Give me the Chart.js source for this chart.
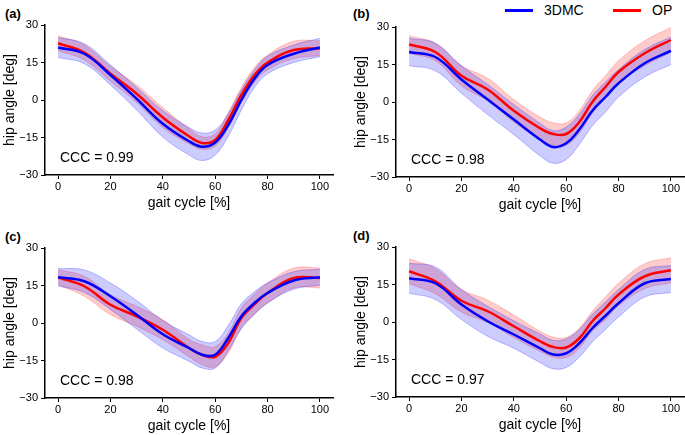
<!DOCTYPE html>
<html>
<head>
<meta charset="utf-8">
<script src="https://cdn.jsdelivr.net/npm/chart.js@4.4.1/dist/chart.umd.min.js"></script>
<style>
  body { margin: 0; background: #fff; }
  #wrap { position: relative; width: 685px; height: 435px; overflow: hidden; font-family: "Liberation Sans", Arial, sans-serif; color: #000; }
  .panel { position: absolute; }
  .tag { position: absolute; font-size: 13px; font-weight: bold; line-height: 16px; }
  .ccc { position: absolute; font-size: 14px; line-height: 16px; white-space: nowrap; }
  .leg { position: absolute; font-size: 14px; line-height: 16px; }
  .legline { position: absolute; height: 3px; }
</style>
</head>
<body>
<div id="wrap">
  <div class="tag" style="left:5px;top:6px">(a)</div>
  <div class="tag" style="left:353px;top:6px">(b)</div>
  <div class="tag" style="left:5px;top:229px">(c)</div>
  <div class="tag" style="left:353px;top:228px">(d)</div>

  <div class="legline" style="left:505px;top:9px;width:28px;background:#0000ff"></div>
  <div class="leg" style="left:544px;top:2px">3DMC</div>
  <div class="legline" style="left:613px;top:9px;width:28px;background:#ff0000"></div>
  <div class="leg" style="left:652px;top:2px">OP</div>
</div>
<script>
// gait cycle positions where values were read
const gait = [0, 10, 20, 30, 40, 50, 55, 60, 65, 70, 75, 80, 90, 100];
const xTicks = [0, 20, 40, 60, 80, 100];
const yTicks = [-30, -15, 0, 15, 30];

// (a)
const aBlueMean = [21, 18.5, 10, 0.5, -9.5, -16.5, -18.7, -17, -10, 0, 8.5, 14, 18.5, 21];
const aBlueSd   = [4, 4, 4, 4.5, 5.3, 5.5, 5.5, 5, 4.5, 4, 3.5, 3.5, 3.5, 3.7];
const aRedMean  = [22.7, 19, 10.5, 2.5, -7, -14.5, -17.2, -16, -8, 2, 10, 15, 20, 20.7];
const aRedSd    = [3, 3, 3, 3.5, 4, 3, 2.5, 2.5, 3, 3, 3, 3, 3.5, 3];
// (b)
const bBlueMean = [20, 18, 9, 1, -7, -15, -18, -16.5, -11, -3.5, 2, 7.5, 15.5, 20.5];
const bBlueSd   = [5.5, 5.5, 5.5, 6, 6, 6.5, 6.5, 6.5, 6, 6, 6, 5.5, 5.5, 5.5];
const bRedMean  = [23, 20, 10.5, 5, -3.5, -10.5, -12.8, -12.8, -8, 0, 6, 12, 19.5, 24.8];
const bRedSd    = [3.5, 3.5, 4, 4.5, 4.5, 4.5, 4.5, 4.5, 4.5, 4.5, 4.5, 4.5, 5, 5];
// (c)
const cBlueMean = [18.3, 16.7, 10.7, 3.3, -4.5, -10, -12.7, -12.7, -6, 2.7, 8, 12, 17, 18.3];
const cBlueSd   = [3.5, 4.5, 5.3, 5.7, 5.5, 5.3, 5.3, 5.3, 5, 5, 4.5, 4, 3.5, 3.2];
const cRedMean  = [18.3, 14.7, 7.3, 2.7, -2.7, -10, -12.7, -13.5, -8, 2, 7.5, 12, 18, 18];
const cRedSd    = [3, 4, 4, 4, 4, 3.5, 4, 4, 4, 4, 4, 4, 4, 4];
// (d)
const dBlueMean = [17.5, 15.5, 7, 0.3, -5, -10.5, -13, -12.5, -8.5, -2.5, 2.5, 7.5, 15.5, 17.2];
const dBlueSd   = [6, 6.5, 6, 6, 5.5, 5.7, 5.7, 5.7, 5.5, 5.5, 5.5, 5.5, 5.5, 5.4];
const dRedMean  = [20.3, 16.3, 8.5, 4.3, -1.7, -7.7, -10, -10.2, -6.5, 0.3, 5.5, 11, 18.3, 20.7];
const dRedSd    = [5, 5, 4.5, 4.5, 4.5, 4, 4, 4, 4, 4, 4.5, 4.5, 5, 5];

const FONT = "'Liberation Sans', Arial, sans-serif";
const BLUE = "#0000ff";
const RED = "#ff0000";

const pts = (arr, sd, sign) => gait.map((g, i) => ({ x: g, y: arr[i] + sign * (sd ? sd[i] : 0) }));

function makePanel(left, top, cccText, blueMean, blueSd, redMean, redSd) {
  const wrap = document.getElementById("wrap");
  const div = document.createElement("div");
  div.className = "panel";
  div.style.left = left + "px";
  div.style.top = top + "px";
  const canvas = document.createElement("canvas");
  canvas.width = 334;
  canvas.height = 212;
  div.appendChild(canvas);
  wrap.appendChild(div);

  const ccc = document.createElement("div");
  ccc.className = "ccc";
  ccc.style.left = (left + 60) + "px";
  ccc.style.top = (top + 149) + "px";
  ccc.textContent = cccText;
  wrap.appendChild(ccc);

  const line = { pointRadius: 0, tension: 0.4 };
  new Chart(canvas, {
    type: "line",
    data: {
      datasets: [
        { ...line, data: pts(blueMean, null, 0), borderColor: BLUE, borderWidth: 2.5, fill: false, order: 0 },
        { ...line, data: pts(redMean, null, 0), borderColor: RED, borderWidth: 2.5, fill: false, order: 1 },
        { ...line, data: pts(blueMean, blueSd, 1), borderColor: "rgba(0,0,255,0.25)", borderWidth: 1,
          backgroundColor: "rgba(0,0,255,0.2)", fill: "+1", order: 2 },
        { ...line, data: pts(blueMean, blueSd, -1), borderColor: "rgba(0,0,255,0.25)", borderWidth: 1, fill: false, order: 3 },
        { ...line, data: pts(redMean, redSd, 1), borderColor: "rgba(255,0,0,0.2)", borderWidth: 1,
          backgroundColor: "rgba(255,0,0,0.2)", fill: "+1", order: 4 },
        { ...line, data: pts(redMean, redSd, -1), borderColor: "rgba(255,0,0,0.2)", borderWidth: 1, fill: false, order: 5 },
      ],
    },
    options: {
      responsive: false,
      animation: false,
      layout: { padding: { top: 25, right: 1, left: 0, bottom: 0 } },
      plugins: { legend: { display: false }, tooltip: { enabled: false } },
      scales: {
        x: {
          type: "linear",
          min: -5,
          max: 105,
          afterBuildTicks: (s) => { s.ticks = xTicks.map((v) => ({ value: v })); },
          afterFit: (s) => { s.height = 37; },
          grid: { drawOnChartArea: false, drawTicks: true, tickLength: 4, color: "#000", tickWidth: 1 },
          border: { display: true, color: "#000", width: 1.5 },
          ticks: { color: "#000", font: { size: 11, family: FONT }, padding: 1, maxRotation: 0 },
          title: { display: true, text: "gait cycle [%]", color: "#000", font: { size: 14, family: FONT }, padding: { top: 0, bottom: 0 } },
        },
        y: {
          min: -30,
          max: 30,
          afterBuildTicks: (s) => { s.ticks = yTicks.map((v) => ({ value: v })); },
          afterFit: (s) => { s.width = 45; },
          grid: { drawOnChartArea: false, drawTicks: true, tickLength: 4, color: "#000", tickWidth: 1 },
          border: { display: true, color: "#000", width: 1.5 },
          ticks: {
            color: "#000",
            font: { size: 11, family: FONT },
            padding: 3,
            callback: (v) => (v < 0 ? "\u2212" + Math.abs(v) : String(v)),
          },
          title: { display: true, text: "hip angle [deg]", color: "#000", font: { size: 14, family: FONT }, padding: { top: 2, bottom: 0 } },
        },
      },
    },
  });
}

makePanel(0, 0, "CCC = 0.99", aBlueMean, aBlueSd, aRedMean, aRedSd);
makePanel(351, 2, "CCC = 0.98", bBlueMean, bBlueSd, bRedMean, bRedSd);
makePanel(0, 223, "CCC = 0.98", cBlueMean, cBlueSd, cRedMean, cRedSd);
makePanel(351, 222, "CCC = 0.97", dBlueMean, dBlueSd, dRedMean, dRedSd);
</script>
</body>
</html>
